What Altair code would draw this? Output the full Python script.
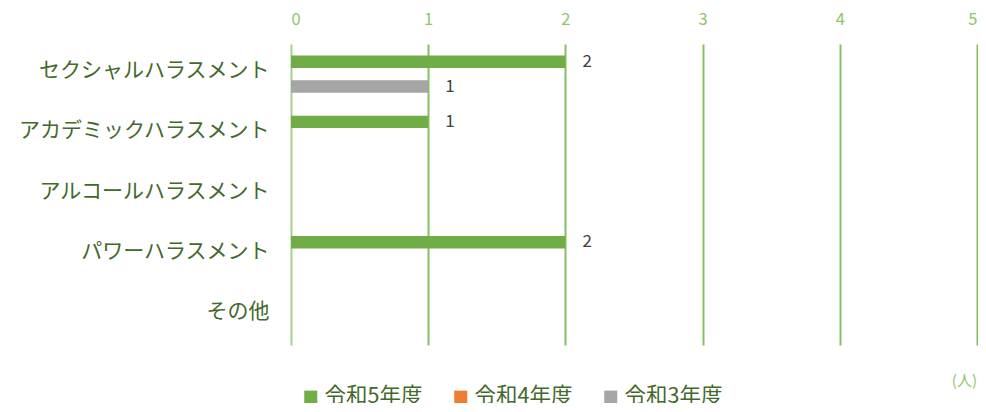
import altair as alt
import pandas as pd

categories = ["セクシャルハラスメント", "アカデミックハラスメント", "アルコールハラスメント", "パワーハラスメント", "その他"]
series = ["令和5年度", "令和4年度", "令和3年度"]
r5 = [2, 1, None, 2, None]
r4 = [None, None, None, None, None]
r3 = [1, None, None, None, None]
colors = ["#70ad47", "#ed7d31", "#a5a5a5"]
x_ticks = [0, 1, 2, 3, 4, 5]

rows = []
for s, vals in zip(series, [r5, r4, r3]):
    for c, v in zip(categories, vals):
        rows.append({"category": c, "series": s, "value": v})
df = pd.DataFrame(rows)

FONT = "Noto Sans CJK JP"

y_enc = alt.Y("category:N", sort=categories,
              scale=alt.Scale(paddingInner=0.38, paddingOuter=0.19),
              axis=alt.Axis(title=None, domain=False, ticks=False, labelPadding=22, grid=False,
                            labelOffset=-3))
x_enc = alt.X("value:Q", scale=alt.Scale(domain=[0, 5], nice=False),
              axis=alt.Axis(orient="top", values=x_ticks, title=None, domain=False, ticks=False,
                            labelPadding=17, grid=True, format="d",
                            gridColor={"condition": {"test": "datum.value === 0", "value": "#a9d18e"},
                                       "value": "#84c060"}))

bars = alt.Chart(df).mark_bar(cornerRadius=0).encode(
    y=y_enc,
    x=x_enc,
    yOffset=alt.YOffset("series:N", sort=series, scale=alt.Scale(paddingInner=0, paddingOuter=0)),
    color=alt.Color("series:N", sort=series,
                    scale=alt.Scale(domain=series, range=colors),
                    legend=alt.Legend(title=None, orient="none", legendX=9, legendY=342,
                                      direction="horizontal", columns=3, columnPadding=27,
                                      symbolType="square", symbolSize=170, symbolStrokeWidth=0,
                                      labelOffset=3)),
)

labels = alt.Chart(df).transform_filter("datum.value != null && datum.value > 0").mark_text(
    align="left", baseline="middle", dx=17, fontSize=17, color="#404040", font=FONT
).encode(
    y=alt.Y("category:N", sort=categories),
    x=alt.X("value:Q"),
    yOffset=alt.YOffset("series:N", sort=series),
    text=alt.Text("value:Q", format="d"),
)

chart = alt.layer(bars, labels).properties(
    width=686, height=301,
    autosize=alt.AutoSizeParams(type="none"),
    padding={"left": 283, "top": 36, "right": 1, "bottom": 58},
    title=alt.TitleParams("(人)", orient="bottom", anchor="end", offset=-34, frame="group",
                          fontSize=15, fontWeight="normal", color="#92c46e", font=FONT),
).configure_view(stroke=None).configure_axisX(
    labelFontSize=16.5, labelColor="#8fc46c", labelFont=FONT, gridWidth=2
).configure_axisY(
    labelFontSize=21, labelColor="#43682b", labelFont=FONT, labelLimit=0
).configure_legend(
    labelFontSize=21.5, labelColor="#43682b", labelFont=FONT, labelLimit=0
)

chart.save("out.html", embed_options={"renderer": "svg", "actions": False})
